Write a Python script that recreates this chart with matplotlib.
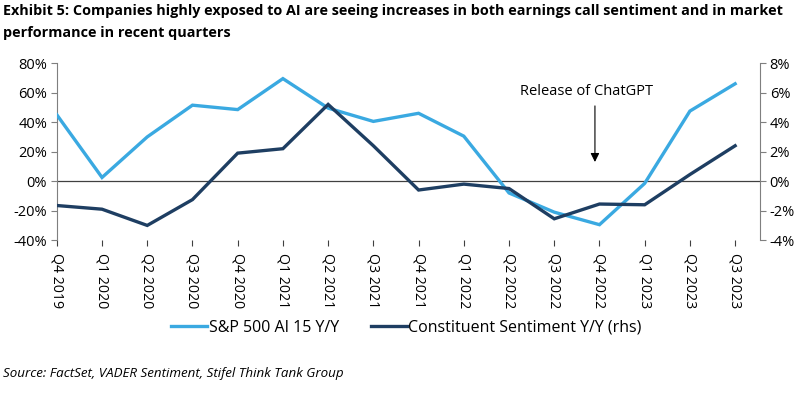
import matplotlib
matplotlib.use("Agg")
import matplotlib.pyplot as plt
from matplotlib.ticker import FuncFormatter, FixedLocator

quarters = ["Q4 2019", "Q1 2020", "Q2 2020", "Q3 2020", "Q4 2020", "Q1 2021",
            "Q2 2021", "Q3 2021", "Q4 2021", "Q1 2022", "Q2 2022", "Q3 2022",
            "Q4 2022", "Q1 2023", "Q2 2023", "Q3 2023"]
sp500_ai15 = [45, 2.5, 30, 51.5, 48.5, 69.5, 49.5, 40.5, 46, 30.5, -8, -21,
              -29.5, -1.5, 47.5, 66]
sentiment = [-1.65, -1.9, -3.0, -1.25, 1.9, 2.2, 5.2, 2.4, -0.6, -0.2, -0.5,
             -2.55, -1.55, -1.6, 0.45, 2.4]
left_ticks = [-40, -20, 0, 20, 40, 60, 80]
right_ticks = [-4, -2, 0, 2, 4, 6, 8]

LIGHT = "#3AA9E1"
DARK = "#1E3E62"
FONT = ["Open Sans", "DejaVu Sans"]
plt.rcParams["font.family"] = FONT

fig = plt.figure(figsize=(8.0, 3.97), dpi=100)
ax = fig.add_axes([0.071, 0.395, 0.879, 0.446])
x = list(range(len(quarters)))

ax.plot(x, sp500_ai15, color=LIGHT, lw=2.4, solid_joinstyle="miter",
        label="S&P 500 AI 15 Y/Y", zorder=3)
ax2 = ax.twinx()
ax2.plot(x, sentiment, color=DARK, lw=2.4, solid_joinstyle="miter",
         label="Constituent Sentiment Y/Y (rhs)", zorder=3)

ax.set_xlim(0, len(quarters) - 1 + 0.55)
ax.set_ylim(-40, 80)
ax2.set_ylim(-4, 8)
ax.yaxis.set_major_locator(FixedLocator(left_ticks))
ax2.yaxis.set_major_locator(FixedLocator(right_ticks))
ax.yaxis.set_major_formatter(FuncFormatter(lambda v, p: f"{v:.0f}%"))
ax2.yaxis.set_major_formatter(FuncFormatter(lambda v, p: f"{v:.0f}%"))

for a in (ax, ax2):
    for s in ("top", "bottom"):
        a.spines[s].set_visible(False)
ax.spines["right"].set_visible(False)
ax2.spines["left"].set_visible(False)
ax.spines["left"].set_color("#7f7f7f")
ax2.spines["right"].set_color("#7f7f7f")
ax.tick_params(axis="y", colors="#7f7f7f", labelcolor="black", labelsize=10.5,
               length=4, width=0.8, pad=3)
ax2.tick_params(axis="y", colors="#7f7f7f", labelcolor="black", labelsize=10.5,
                length=4, width=0.8, pad=3)

# x labels at bottom, rotated
ax.set_xticks(x)
ax.set_xticklabels(quarters, rotation=270, fontsize=10.2)
ax.tick_params(axis="x", length=0, pad=9)

# zero line with tick marks
ax.axhline(0, color="#404040", lw=0.9, zorder=2)
zx = ax.secondary_xaxis(0)
zx.set_xticks(x)
zx.set_xticklabels([])
zx.spines["bottom"].set_visible(False)
zx.tick_params(axis="x", length=4, width=0.8, color="#404040", direction="out")

chatgpt_q = 11.9
ax.text(chatgpt_q - 0.18, 61, "Release of ChatGPT", ha="center", va="center",
        fontsize=10.5, zorder=5)
ax.annotate("", xy=(chatgpt_q, 13), xytext=(chatgpt_q, 51),
            arrowprops=dict(arrowstyle="-|>", color="black", lw=0.8,
                            shrinkA=0, shrinkB=0, mutation_scale=13),
            zorder=5)

h1, l1 = ax.get_legend_handles_labels()
h2, l2 = ax2.get_legend_handles_labels()
fig.legend(h1 + h2, l1 + l2, loc="center", bbox_to_anchor=(0.508, 0.174),
           ncol=2, frameon=False, handlelength=2.25,
           handletextpad=0.1, columnspacing=2.0,
           prop={"size": 11.5})

fig.text(0.004, 0.99, "Exhibit 5: Companies highly exposed to AI are seeing increases in both earnings call sentiment and in market\nperformance in recent quarters",
         ha="left", va="top", fontsize=10.35, fontweight="bold", linespacing=1.7)
fig.text(0.004, 0.058, "Source: FactSet, VADER Sentiment, Stifel Think Tank Group",
         ha="left", va="center", fontsize=9.6, style="italic")

fig.savefig("out.png", dpi=100)
